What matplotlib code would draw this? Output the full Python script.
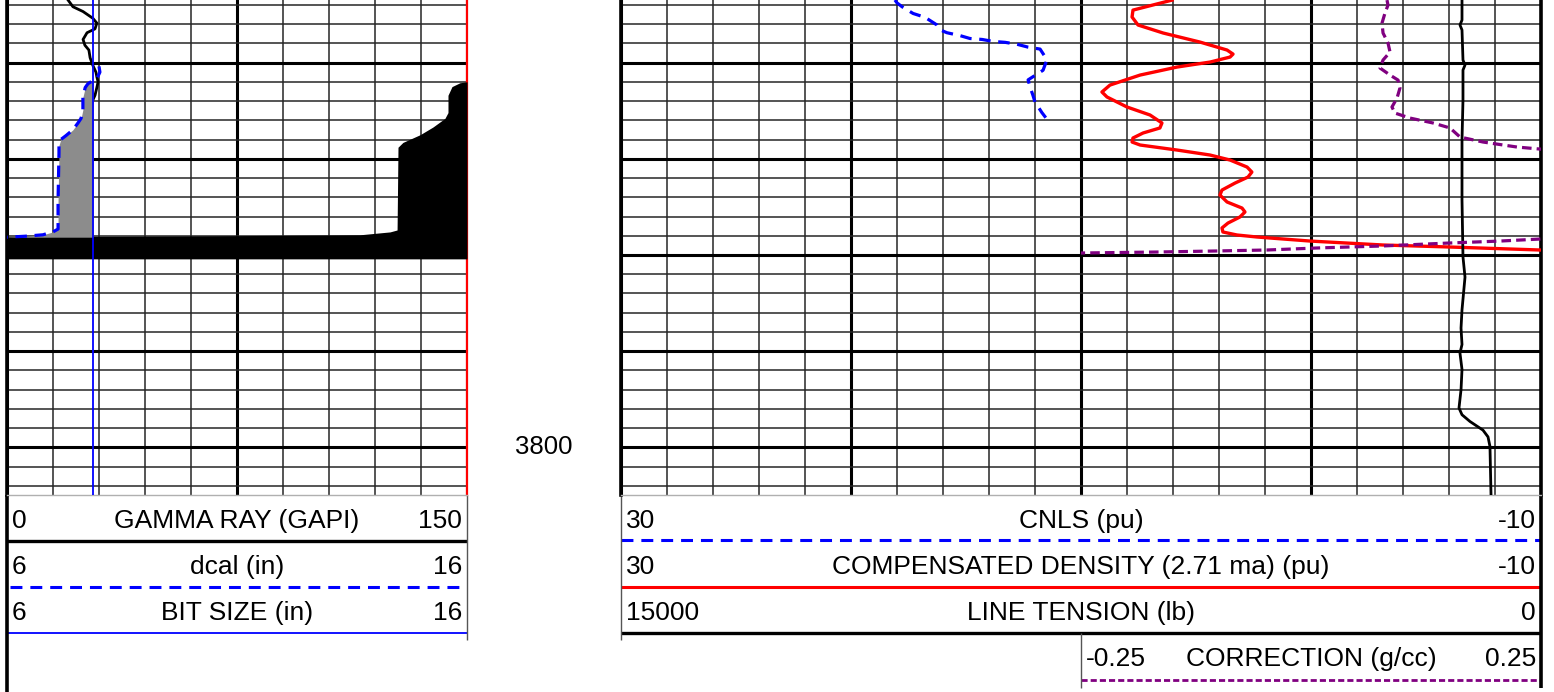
import numpy as np
import matplotlib
matplotlib.use('Agg')
import matplotlib.pyplot as plt
from matplotlib.ticker import MultipleLocator

plt.rcParams['font.family'] = ['Liberation Sans', 'DejaVu Sans']
plt.rcParams['lines.solid_joinstyle'] = 'round'
plt.rcParams['lines.dash_joinstyle'] = 'round'

# ---------------- data ----------------
TOP_DEPTH = 3753.5
BOTTOM_DEPTH = 3804.94
DEPTH_LABELS = [3800]

GR_DEPTH = [3753.5, 3754.2, 3754.7, 3755.4, 3755.9, 3756.5, 3756.9, 3757.6, 3758.2,
            3758.7, 3759.5, 3760.3, 3761.0, 3761.5, 3762.0, 3762.6, 3763.4, 3763.9, 3764.2]
GR = [19.9, 21.5, 24.8, 28.0, 29.3, 28.7, 26.1, 24.8, 25.4,
      26.7, 27.1, 28.0, 29.0, 29.3, 29.7, 29.3, 28.7, 28.0, 27.7]

DCAL_DEPTH = [3760.4, 3761.0, 3761.6, 3762.2, 3762.6, 3763.6, 3764.9, 3765.8, 3766.3,
              3767.0, 3767.6, 3768.0, 3768.6, 3769.4, 3774.3, 3777.3, 3777.6, 3777.9,
              3778.05, 3778.15]
DCAL = [8.00, 8.02, 7.96, 7.76, 7.70, 7.65, 7.65, 7.61, 7.54,
        7.43, 7.28, 7.17, 7.13, 7.13, 7.11, 7.11, 7.00, 6.78,
        6.39, 6.00]

BIT_SIZE = 7.875

# shaded GR backup (black fill to the right edge)
GRB_DEPTH = [3762.0, 3762.1, 3762.5, 3763.4, 3765.2, 3765.8, 3766.7, 3767.5, 3768.3,
             3768.8, 3777.4, 3777.6, 3777.7, 3777.9, 3778.0, 3778.1, 3780.4]
GRB = [150.0, 147.7, 145.1, 143.8, 143.8, 142.8, 138.9, 134.7, 129.1,
       127.5, 127.2, 124.9, 121.6, 115.1, 68.5, 0.0, 0.0]

CNLS_DEPTH = [3753.5, 3753.8, 3754.2, 3754.9, 3755.3, 3756.1, 3756.6, 3756.9, 3757.2,
              3757.5, 3757.6, 3757.8, 3757.9, 3758.1, 3758.4, 3758.6, 3759.7, 3760.8,
              3761.8, 3762.5, 3763.4, 3764.1, 3765.2, 3766.3]
CNLS = [18.09, 18.00, 17.78, 17.30, 16.78, 16.26, 16.13, 15.83, 15.26,
        14.83, 14.30, 13.83, 13.30, 12.78, 12.30, 11.78, 11.48, 11.65,
        12.30, 12.22, 12.09, 12.00, 11.70, 11.35]

DEN_DEPTH = [3753.51, 3754.55, 3755.27, 3756.10, 3756.93, 3757.87, 3758.70, 3759.12,
             3759.43, 3759.95, 3760.47, 3761.30, 3762.34, 3763.06, 3763.58, 3764.62,
             3765.45, 3766.28, 3766.80, 3767.32, 3767.84, 3768.26, 3768.57, 3769.09,
             3769.61, 3770.13, 3770.86, 3771.38, 3771.90, 3772.52, 3773.25, 3773.77,
             3774.49, 3775.12, 3775.53, 3776.05, 3776.68, 3777.19, 3777.61, 3777.92,
             3778.13, 3778.55, 3778.96, 3779.17, 3779.48]
DEN = [6.04, 7.74, 7.78, 7.52, 6.43, 4.83, 3.65, 3.39,
       3.52, 4.39, 5.83, 7.43, 8.74, 9.09, 8.87, 8.00,
       7.00, 6.48, 6.57, 7.30, 7.74, 7.78, 7.43, 5.83,
       4.39, 3.52, 2.78, 2.57, 2.74, 3.30, 3.87, 3.96,
       3.65, 3.00, 2.87, 3.09, 3.61, 3.87, 3.83, 3.22,
       2.35, 0.04, -3.13, -6.04, -9.96]

TEN_DEPTH = [3753.51, 3755.58, 3756.10, 3756.62, 3759.74, 3760.26, 3760.78, 3763.90,
             3768.05, 3774.29, 3780.2, 3782.3, 3785.7, 3787.6, 3789.3, 3790.2, 3791.9,
             3794.0, 3795.9, 3796.6, 3797.3, 3798.2, 3798.9, 3799.9, 3804.94]
TENSION = [1288, 1288, 1321, 1288, 1272, 1239, 1272, 1272,
           1288, 1288, 1272, 1239, 1288, 1304, 1288, 1321, 1288,
           1304, 1337, 1288, 1158, 946, 864, 832, 815]

CORR_DEPTH = [3753.51, 3754.03, 3754.86, 3755.90, 3756.93, 3757.97, 3758.91, 3759.74,
              3760.57, 3761.30, 3761.82, 3762.65, 3763.69, 3764.62, 3765.25, 3765.77,
              3766.28, 3766.80, 3767.74, 3768.26, 3768.78, 3768.99, 3769.30,
              np.nan,
              3778.13, 3778.34, 3778.55, 3778.75, 3779.06, 3779.27, 3779.48, 3779.58,
              3779.69, 3779.79, 3779.82]
CORR = [0.0826, 0.0837, 0.0804, 0.0772, 0.0783, 0.0837, 0.0859, 0.0783,
        0.0750, 0.0859, 0.0946, 0.0967, 0.0935, 0.0880, 0.0913, 0.1076,
        0.1326, 0.1511, 0.1620, 0.1870, 0.2239, 0.2489, 0.2707,
        np.nan,
        0.2707, 0.2489, 0.2054, 0.1511, 0.0783, 0.0065, -0.0478, -0.1022,
        -0.1674, -0.2478, -0.2700]

# ---------------- figure ----------------
W, H = 1554, 692
fig = plt.figure(figsize=(W / 100, H / 100), dpi=100)


def px_axes(x0, y0, w, h, **kw):
    return fig.add_axes([x0 / W, 1 - (y0 + h) / H, w / W, h / H], **kw)


BLUE = '#0000ff'
RED = '#ff0000'
PURPLE = '#800080'
GRIDC = '#262626'
FS = 19

# header / frame canvas in pixel coordinates
axh = px_axes(0, 0, W, H, zorder=0)
axh.set_xlim(0, W)
axh.set_ylim(H, 0)
axh.axis('off')


def style_track(ax, xmin, xmax, minor, major):
    ax.set_xlim(xmin, xmax)
    ax.set_ylim(BOTTOM_DEPTH, TOP_DEPTH)
    ax.xaxis.set_major_locator(MultipleLocator(major))
    ax.xaxis.set_minor_locator(MultipleLocator(minor))
    ax.yaxis.set_major_locator(MultipleLocator(10))
    ax.yaxis.set_minor_locator(MultipleLocator(2))
    ax.grid(which='minor', color=GRIDC, lw=1.1)
    ax.grid(which='major', color='black', lw=2.2)
    ax.set_axisbelow(True)
    ax.tick_params(which='both', length=0, labelbottom=False, labelleft=False)
    ax.spines['top'].set_visible(False)
    ax.spines['bottom'].set_color('#b0b0b0')
    ax.spines['bottom'].set_linewidth(1.0)


# ---- Track 1 ----
ax1 = px_axes(7, 0, 460, 495, zorder=2)
style_track(ax1, 0, 150, 15, 75)
ax1.spines['left'].set_linewidth(2.6)
ax1.spines['left'].set_color('black')
ax1.spines['right'].set_color(RED)
ax1.spines['right'].set_linewidth(1.6)

# caliper / bit size on 6..16 in scale
ax1c = ax1.twiny()
ax1c.set_xlim(6, 16)
ax1c.axis('off')
dcal = np.array(DCAL)
dcal_d = np.array(DCAL_DEPTH)
bits = np.full_like(dcal, BIT_SIZE)
ax1c.fill_betweenx(dcal_d, dcal, bits, where=dcal < bits, interpolate=True,
                   color='#8c8c8c', lw=0, zorder=2)
ax1c.axvline(BIT_SIZE, color=BLUE, lw=1.3, zorder=3)
ax1c.plot(dcal, dcal_d, color=BLUE, lw=2.3, ls=(0, (3.6, 2.4)), zorder=4)

ax1.fill_betweenx(GRB_DEPTH, GRB, 150, color='black', lw=0, zorder=5)
ax1.plot(GR, GR_DEPTH, color='black', lw=2.0, zorder=6)

# ---- Track 2 ----
ax2 = px_axes(621, 0, 920, 495, zorder=2)
style_track(ax2, 30, -10, 2, 10)
for s in ('left', 'right'):
    ax2.spines[s].set_linewidth(2.6)
    ax2.spines[s].set_color('black')

ax2.plot(CNLS, CNLS_DEPTH, color=BLUE, lw=2.3, ls=(0, (3.6, 2.4)), zorder=4)
ax2.plot(DEN, DEN_DEPTH, color=RED, lw=2.4, zorder=5)

ax2t = ax2.twiny()
ax2t.set_xlim(15000, 0)
ax2t.axis('off')
ax2t.plot(TENSION, TEN_DEPTH, color='black', lw=2.0, zorder=5)

# correction on right half of track 2
ax3 = px_axes(1081, 0, 460, 495, zorder=3)
ax3.set_xlim(-0.25, 0.25)
ax3.set_ylim(BOTTOM_DEPTH, TOP_DEPTH)
ax3.axis('off')
ax3.patch.set_alpha(0)
ax3.plot(CORR, CORR_DEPTH, color=PURPLE, lw=2.3, ls=(0, (3.0, 1.6)))

# ---- depth track labels ----
axd = px_axes(467, 0, 154, 495, zorder=1)
axd.set_ylim(BOTTOM_DEPTH, TOP_DEPTH)
axd.set_xlim(0, 1)
axd.axis('off')
for d in DEPTH_LABELS:
    axd.text(0.5, d, f'{d}', ha='center', va='center', fontsize=FS - 0.5)

# ---- headers ----
def hline(x0, x1, y, **kw):
    axh.plot([x0, x1], [y, y], solid_capstyle='butt', **kw)


def vline(x, y0, y1, **kw):
    axh.plot([x, x], [y0, y1], solid_capstyle='butt', **kw)


def header_row(xl, xr, xc, y, left, mid, right):
    axh.text(xl + 5, y, left, ha='left', va='baseline', fontsize=FS)
    axh.text(xc, y, mid, ha='center', va='baseline', fontsize=FS)
    axh.text(xr - 5, y, right, ha='right', va='baseline', fontsize=FS)


# track 1 header
header_row(7, 467, 237, 528, '0', 'GAMMA RAY (GAPI)', '150')
hline(7, 467, 541, color='black', lw=2.4)
header_row(7, 467, 237, 574, '6', 'dcal (in)', '16')
hline(10, 467, 587, color=BLUE, lw=2.2, ls=(0, (3.9, 2.6)))
header_row(7, 467, 237, 620, '6', 'BIT SIZE (in)', '16')
hline(7, 467, 633, color=BLUE, lw=1.3)
vline(7, 495, 692, color='black', lw=2.6)
vline(467, 495, 640, color='#555555', lw=1.0)

# track 2 header
header_row(621, 1541, 1081, 528, '30', 'CNLS (pu)', '-10')
hline(621, 1541, 540, color=BLUE, lw=2.2, ls=(0, (3.9, 2.6)))
header_row(621, 1541, 1081, 574, '30', 'COMPENSATED DENSITY (2.71 ma) (pu)', '-10')
hline(621, 1541, 587, color=RED, lw=2.2)
header_row(621, 1541, 1081, 620, '15000', 'LINE TENSION (lb)', '0')
hline(621, 1541, 633, color='black', lw=2.4)
header_row(1081, 1541, 1311, 666, '-0.25', 'CORRECTION (g/cc)', '0.25')
hline(1081, 1541, 680, color=PURPLE, lw=2.0, ls=(0, (2.2, 1.1)))
vline(621, 495, 640, color='#555555', lw=1.0)
vline(1081, 633, 688, color='#555555', lw=1.0)
vline(1541, 495, 688, color='black', lw=2.6)

fig.savefig('out.png', dpi=100)
